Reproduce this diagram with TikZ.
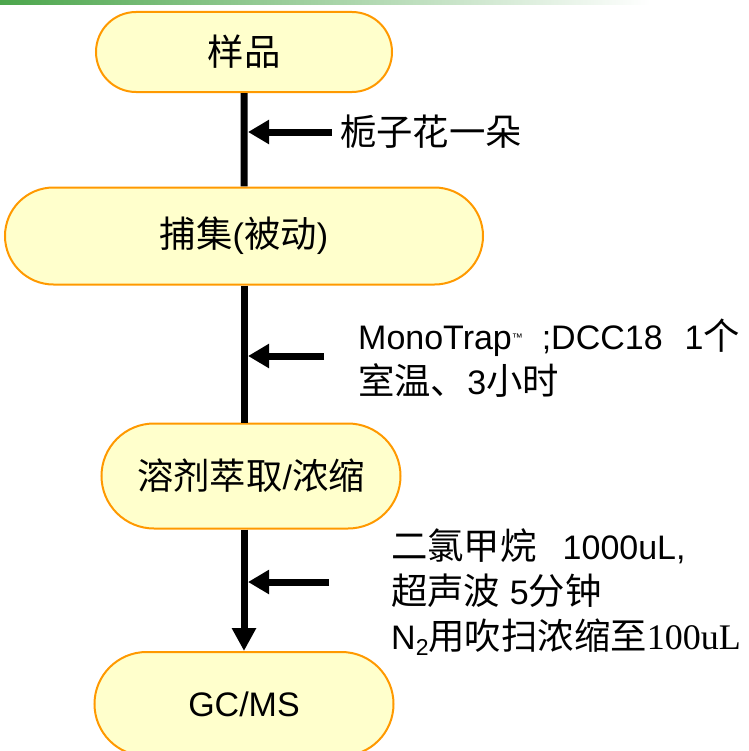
\documentclass[tikz,border=0pt]{standalone}
\usepackage{fontspec}
\setmainfont{Liberation Sans}
\newfontfamily\cjk[Scale=1.07]{Noto Sans CJK SC}
\newfontfamily\tms{Liberation Serif}
\usetikzlibrary{shapes.misc,arrows.meta}
\definecolor{boxfill}{RGB}{255,255,204}
\definecolor{boxline}{RGB}{255,153,0}
\definecolor{bargreen}{RGB}{76,166,76}
\newcommand{\zh}[1]{{\cjk #1}}
\tikzset{stage/.style={rounded rectangle, draw=boxline, fill=boxfill, line width=2bp,
      inner sep=0pt, font=\fontsize{34bp}{45bp}\selectfont}}
\tikzset{flow/.style={line width=7bp}}
\tikzset{feed/.style={line width=7bp, -{Triangle[length=21bp,width=23bp]}}}
\tikzset{note/.style={anchor=west, inner sep=0pt, align=left,
      font=\fontsize{34bp}{45bp}\selectfont}}

\begin{document}
\begin{tikzpicture}[x=1bp, y=-1bp]
    \useasboundingbox (0,0) rectangle (749,751);
    \shade[left color=bargreen, right color=white] (0,0) rectangle (650,5);
    % stages
    \node[stage, minimum width=296bp, minimum height=80bp] (smp) at (244,52) {\zh{样品}};
    \node[stage, minimum width=478bp, minimum height=97bp] (cap) at (244,236) {\zh{捕集}(\zh{被动})};
    \node[stage, minimum width=299bp, minimum height=105bp] (ext) at (251,476) {\zh{溶剂萃取}/\zh{浓缩}};
    \node[stage, minimum width=299bp, minimum height=104bp] (gcms) at (244,704) {GC/MS};
    % main line
    \draw[flow] (smp) -- (cap);
    \draw[flow] (cap.south) -- (cap.south |- ext.north);
    \draw[flow, -{Triangle[length=23bp,width=23bp]}] (ext.south -| gcms.north) -- (gcms.north);
    % side inputs
    \coordinate (src1) at (332,132); \coordinate (dst1) at (248,132);
    \coordinate (src2) at (324,356); \coordinate (dst2) at (248,356);
    \coordinate (src3) at (329,582); \coordinate (dst3) at (248,582);
    \draw[feed] (src1) -- (dst1);
    \draw[feed] (src2) -- (dst2);
    \draw[feed] (src3) -- (dst3);
    \node[note] (lab1) at (340,132) {\zh{栀子花一朵}};
    \node[note] (lab2) at (358,358) {MonoTrap\raisebox{0.45ex}{\fontsize{11bp}{11bp}\selectfont ™}\ \ ;DCC18\hspace{22bp}1\zh{个}\\
      \zh{室温、}3\zh{小时}};
    \node[note] (lab3) at (391,592) {\zh{二氯甲烷}\hspace{26bp}1000uL,\\
      \zh{超声波} 5\zh{分钟}\\
      N\raisebox{-0.35ex}{\fontsize{23bp}{23bp}\selectfont 2}\zh{用吹扫浓缩至}{\tms\fontsize{36bp}{45bp}\selectfont 100uL}};
  \end{tikzpicture}
\end{document}
